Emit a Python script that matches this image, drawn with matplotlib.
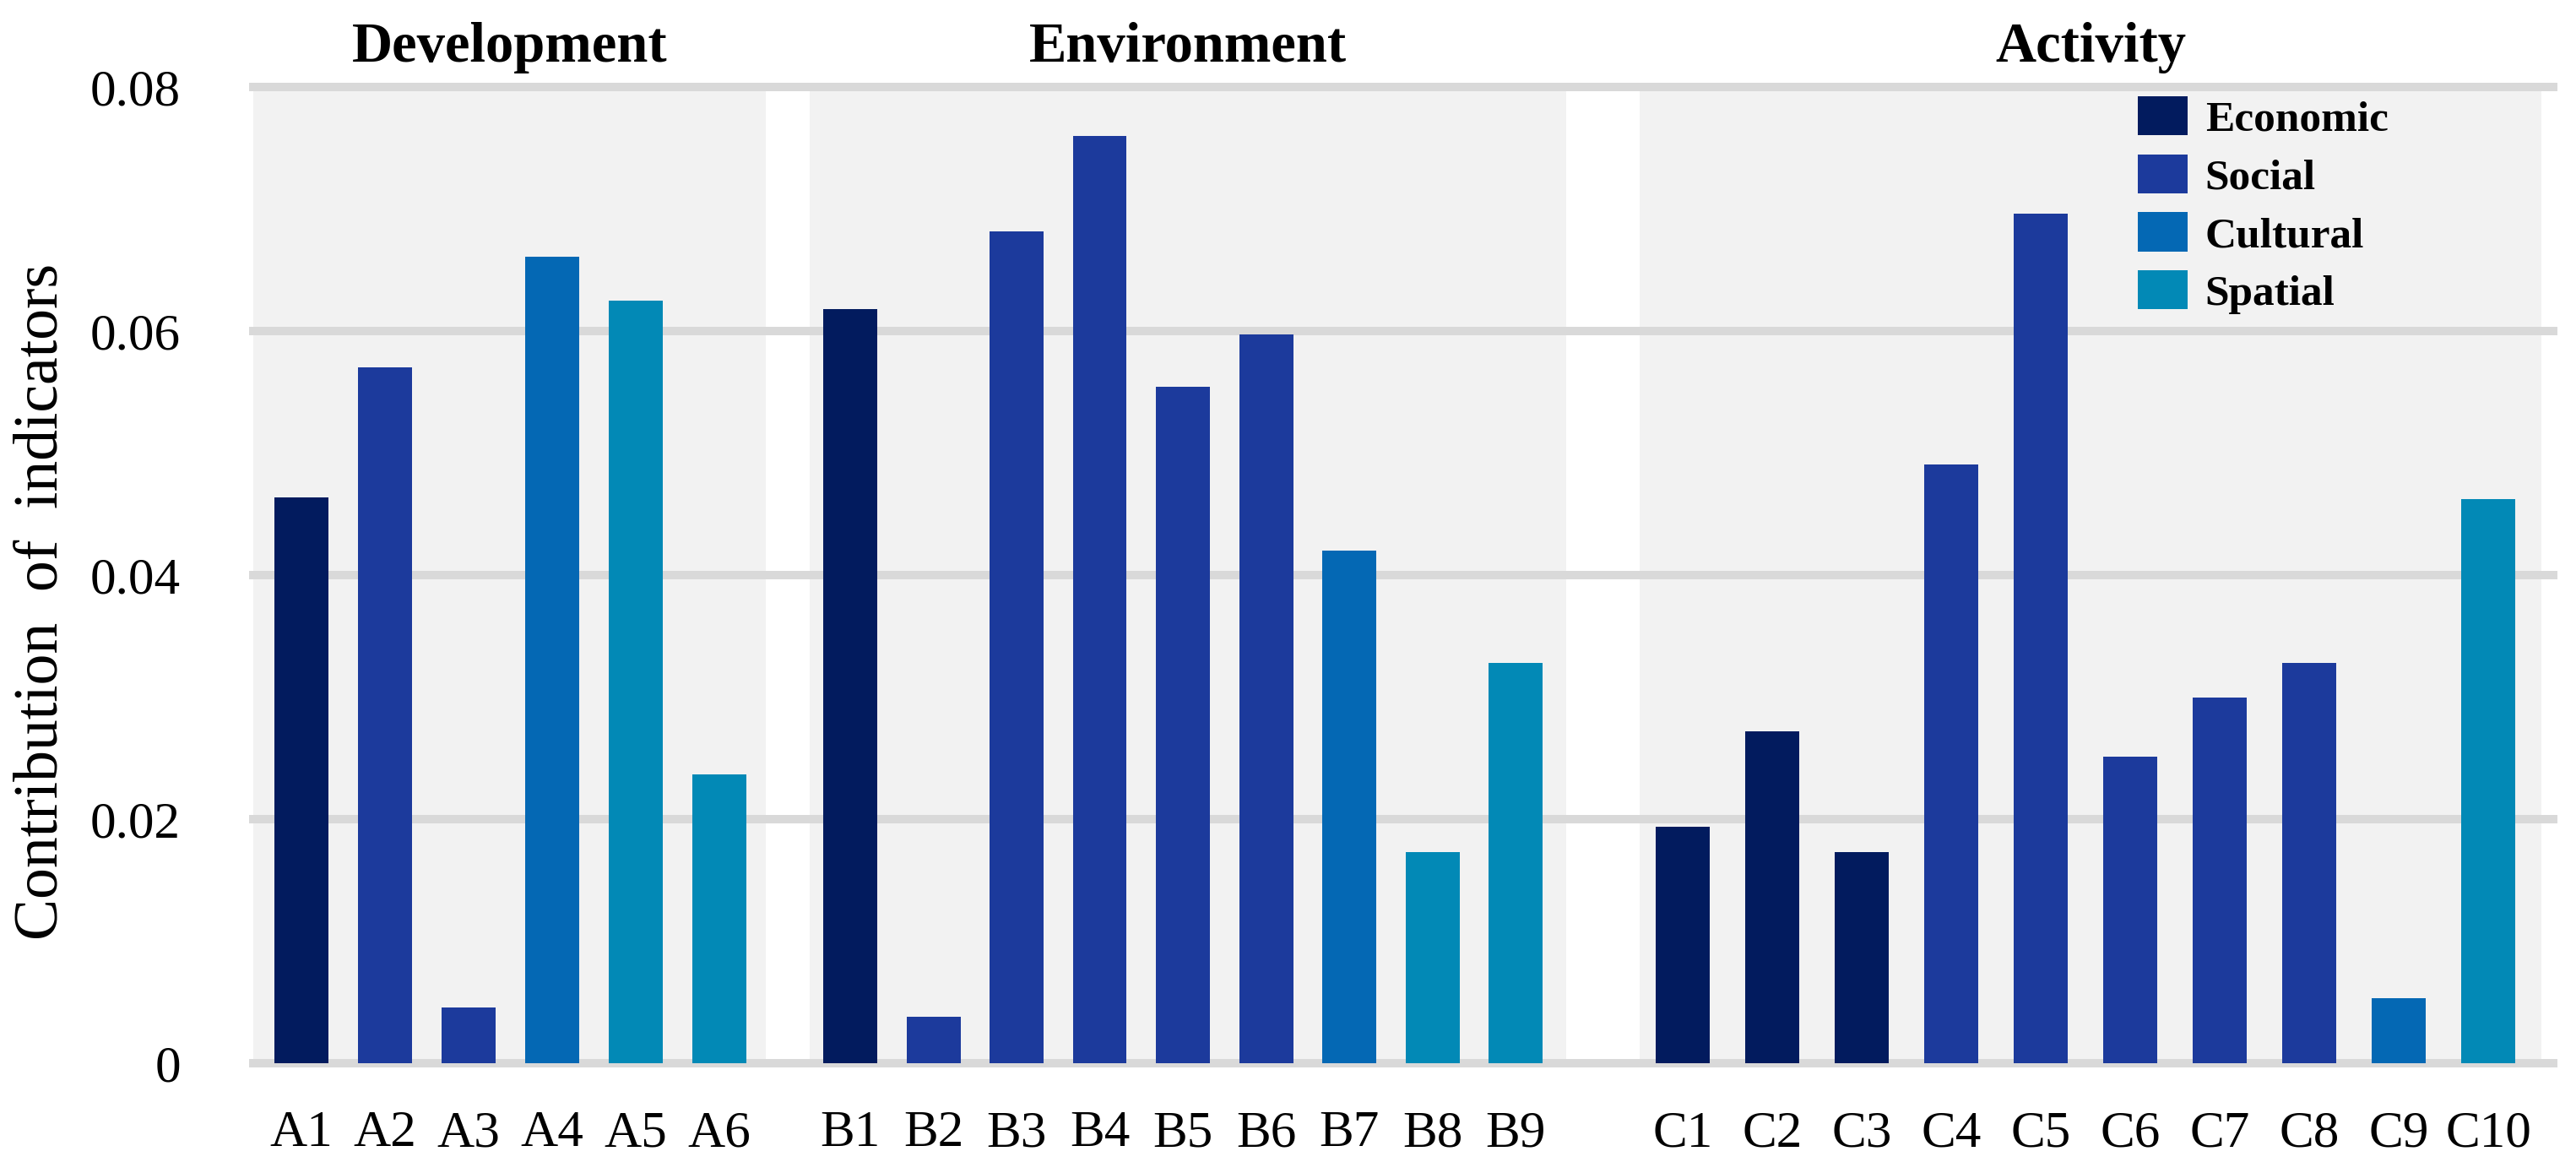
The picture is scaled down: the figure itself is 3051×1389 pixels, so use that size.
import matplotlib

matplotlib.use("Agg")
import matplotlib.pyplot as plt
from matplotlib.patches import Patch
from matplotlib.transforms import blended_transform_factory

plt.rcParams["font.family"] = ["Liberation Serif", "DejaVu Serif"]

# ---- data -----------------------------------------------------------------
groups = ["Development", "Environment", "Activity"]
labels_a = ["A1", "A2", "A3", "A4", "A5", "A6"]
labels_b = ["B1", "B2", "B3", "B4", "B5", "B6", "B7", "B8", "B9"]
labels_c = ["C1", "C2", "C3", "C4", "C5", "C6", "C7", "C8", "C9", "C10"]

values_a = [0.0464, 0.0570, 0.0046, 0.0661, 0.0625, 0.0237]
values_b = [0.0618, 0.0038, 0.0682, 0.0760, 0.0554, 0.0597, 0.0420, 0.0173, 0.0328]
values_c = [0.0194, 0.0272, 0.0173, 0.0491, 0.0696, 0.0251, 0.0300, 0.0328, 0.0053, 0.0462]

dims_a = ["Economic", "Social", "Social", "Cultural", "Spatial", "Spatial"]
dims_b = ["Economic", "Social", "Social", "Social", "Social", "Social",
          "Cultural", "Spatial", "Spatial"]
dims_c = ["Economic", "Economic", "Economic", "Social", "Social", "Social",
          "Social", "Social", "Cultural", "Spatial"]

dim_names = ["Economic", "Social", "Cultural", "Spatial"]
dim_colors = {
    "Economic": "#021b5e",
    "Social": "#1c3a9c",
    "Cultural": "#0468b4",
    "Spatial": "#0289b6",
}

# ---- layout (x in layout units, 1 unit ~ one bar slot) -------------------------
first_pos = [0.57, 7.07, 16.93]
step = [0.99, 0.985, 1.06]
panels = [(0.0, 6.07), (6.59, 15.55), (16.42, 27.10)]
x_max = 27.24
bar_width = 0.64

W, H = 3051, 1389
fig = plt.figure(figsize=(W / 100, H / 100), dpi=100)
ax = fig.add_axes([300 / W, 1 - 1259 / H, (3024 - 300) / W, (1259 - 103) / H])
ax.set_xlim(0, x_max)
ax.set_ylim(0, 0.08)
title_tf = blended_transform_factory(ax.transData, fig.transFigure)

all_labels = [labels_a, labels_b, labels_c]
all_values = [values_a, values_b, values_c]
all_dims = [dims_a, dims_b, dims_c]

ticks, ticklabels = [], []
for g in range(3):
    lo, hi = panels[g]
    ax.axvspan(lo, hi, color="#f2f2f2", zorder=0, lw=0)
    pos = [first_pos[g] + i * step[g] for i in range(len(all_values[g]))]
    cols = [dim_colors[d] for d in all_dims[g]]
    ax.bar(pos, all_values[g], width=bar_width, color=cols, zorder=3)
    ticks += pos
    ticklabels += all_labels[g]
    # group title, baseline a little above the top gridline
    ax.text((lo + hi) / 2, 1 - 73 / H, groups[g], transform=title_tf,
            ha="center", va="baseline", fontsize=48, fontweight="bold",
            clip_on=False)

yticks = [0, 0.02, 0.04, 0.06, 0.08]
for y in yticks:
    ax.axhline(y, color="#d9d9d9", lw=7.2, zorder=1, clip_on=False)

ax.set_xlim(0, x_max)
ax.set_ylim(0, 0.08)
ax.set_xticks(ticks)
ax.set_xticklabels(ticklabels, fontsize=44)
ax.set_yticks(yticks)
ax.set_yticklabels(["0", "0.02", "0.04", "0.06", "0.08"], fontsize=44)
ax.tick_params(axis="both", length=0)
ax.tick_params(axis="x", pad=40)
ax.tick_params(axis="y", pad=62)
for s in ax.spines.values():
    s.set_visible(False)
ax.set_facecolor("none")

fig.text(50 / W, 1 - 712 / H, "Contribution  of  indicators", rotation=90,
         ha="center", va="center", fontsize=53)

handles = [Patch(facecolor=dim_colors[d], edgecolor="none") for d in dim_names]
leg = fig.legend(handles, dim_names, loc="upper left",
                 bbox_to_anchor=(2532 / W, 1 - 114 / H), frameon=False,
                 prop={"family": "Liberation Serif", "weight": "bold", "size": 37},
                 handlelength=1.15, handleheight=1.01, labelspacing=0.33,
                 handletextpad=0.4, borderpad=0, borderaxespad=0)

fig.savefig("out.png", dpi=100)
